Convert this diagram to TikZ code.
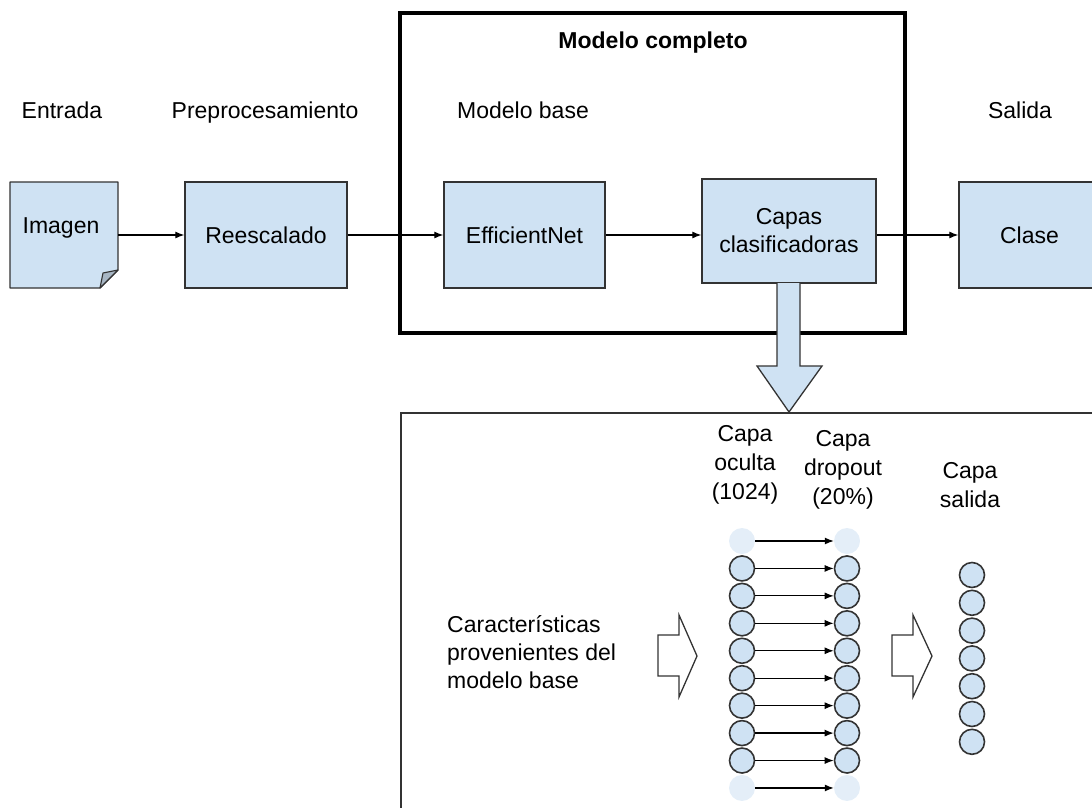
\documentclass[tikz,border=0pt]{standalone}
\usepackage{fontspec}
\setmainfont{Liberation Sans}
\usetikzlibrary{arrows.meta}
\definecolor{boxfill}{HTML}{CFE2F3}
\definecolor{fadefill}{HTML}{E4EEF8}
\definecolor{foldfill}{HTML}{A7B6C4}
\definecolor{edge}{HTML}{333333}

\begin{document}
\begin{tikzpicture}[x=1pt,y=-1pt,
  font=\fontsize{23}{28}\selectfont,
  blockbox/.style={draw=edge,fill=boxfill,line width=1.3pt,inner sep=0pt,align=center},
  link/.style={-{Latex[length=9pt,width=7pt]},line width=1.2pt},
  neuron/.style={circle,draw=edge,fill=boxfill,line width=1.6pt,minimum size=25pt,inner sep=0pt},
  ghost/.style={circle,fill=fadefill,minimum size=26pt,inner sep=0pt},
  caption/.style={align=center,inner sep=0pt},
  layercap/.style={align=center,inner sep=0pt,font=\fontsize{23}{29}\selectfont},
  hollow/.style={draw=edge,fill=white,line width=1.3pt,line join=miter}
]
\useasboundingbox (0,0) rectangle (1092,807);

% column headings
\node[caption,anchor=base] (tin)  at (62,118)  {Entrada};
\node[caption,anchor=base] (tpre) at (265,118) {Preprocesamiento};
\node[caption,anchor=base] (tbase) at (523,118) {Modelo base};
\node[caption,anchor=base] (tout) at (1020,118) {Salida};

% full model frame
\draw[line width=3.5pt] (400,13) rectangle (905,333);
\node[caption,anchor=base,font=\fontsize{23}{28}\selectfont\bfseries] (tfull) at (653,48) {Modelo completo};

% input document with folded corner
\draw[edge,fill=boxfill,line width=1.3pt,line join=round]
  (10,182) -- (118,182) -- (118,270) -- (100,288) -- (10,288) -- cycle;
\draw[edge,fill=foldfill,line width=1.1pt,line join=round]
  (100,288) -- (103,273) -- (118,270) -- cycle;
\node[minimum width=108pt,minimum height=106pt,inner sep=0pt] (img) at (64,235) {};
\node[caption] (imgtxt) at (61,228) {Imagen};

% pipeline blocks
\node[blockbox,minimum width=162pt,minimum height=106pt] (resc) at (266,235) {Reescalado};
\node[blockbox,minimum width=161pt,minimum height=106pt] (eff) at (524.5,235) {EfficientNet};
\node[blockbox,minimum width=174pt,minimum height=104pt] (capas) at (789,231) {Capas\\clasificadoras};
\node[blockbox,minimum width=141pt,minimum height=106pt] (clase) at (1029.5,235) {Clase};

\draw[link] (img.east) -- (resc.west);
\draw[link] (resc.east) -- (eff.west);
\draw[link] (eff.east) -- (eff.east -| capas.west);
\draw[link] (clase.west -| capas.east) -- (clase.west);

% expansion arrow into the detail panel
\draw[edge,fill=boxfill,line width=1.3pt,line join=miter]
  (777,283) -- (777,366) -- (757,366) -- (789,412) -- (822,366) -- (800,366) -- (800,283);

% detail panel
\draw[edge,line width=1.3pt] (401,413) rectangle (1110,830);

\node[layercap] (toc) at (745,465) {Capa\\oculta\\(1024)};
\node[layercap] (tdr) at (843,470) {Capa\\dropout\\(20\%)};
\node[layercap] (tsa) at (970,485) {Capa\\salida};
\node[align=left,inner sep=0pt,anchor=west] (tfeat) at (447,652)
  {Características\\provenientes del\\modelo base};

% hollow flow arrows
\draw[hollow] (658,635) -- (679,635) -- (679,615) -- (697,656) -- (679,697) -- (679,676) -- (658,676) -- cycle;
\draw[hollow] (892,635) -- (913,635) -- (913,615) -- (932,656) -- (913,697) -- (913,676) -- (892,676) -- cycle;

% hidden and dropout layers
\foreach \i in {0,...,9}{
  \pgfmathsetmacro{\yy}{541+27.44*\i}
  \ifnum\i=0
    \node[ghost] (h\i) at (742,\yy) {};
    \node[ghost] (d\i) at (847,\yy) {};
  \else\ifnum\i=9
    \node[ghost] (h\i) at (742,\yy) {};
    \node[ghost] (d\i) at (847,\yy) {};
  \else
    \node[neuron] (h\i) at (742,\yy) {};
    \node[neuron] (d\i) at (847,\yy) {};
  \fi\fi
  \draw[link] (h\i) -- (d\i);
}

% output layer
\foreach \i in {1,...,7}{
  \pgfmathsetmacro{\yy}{575+27.8*(\i-1)}
  \node[neuron] (o\i) at (972,\yy) {};
}
\end{tikzpicture}
\end{document}
